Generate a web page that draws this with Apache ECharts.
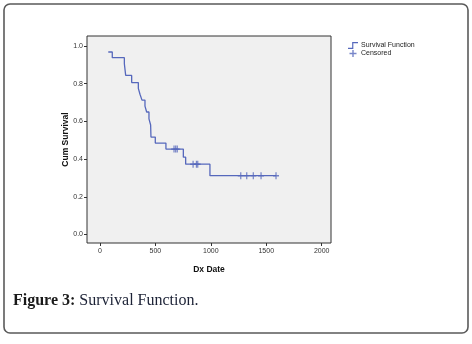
<!DOCTYPE html>
<html>
<head>
<meta charset="utf-8">
<script src="https://cdn.jsdelivr.net/npm/echarts@6/dist/echarts.min.js"></script>
<style>
  html, body {margin: 0; padding: 0; background: #fff;}
  #chart {width: 472px; height: 344px;}
</style>
</head>
<body>
<div id="chart"></div>
<script>
// Kaplan-Meier steps
const stepTimes = [75, 111, 220, 226, 232, 286, 346, 361, 379, 406, 421, 442, 457, 460, 499, 595, 752, 773, 992, 1590];
const stepSurvival = [0.968, 0.938, 0.906, 0.875, 0.844, 0.806, 0.775, 0.744, 0.713, 0.681, 0.65, 0.613, 0.581, 0.517, 0.485, 0.453, 0.41, 0.373, 0.312, 0.312];
const censoredTimes = [668, 683, 697, 840, 870, 882, 1270, 1324, 1383, 1453, 1588];
const censoredSurvival = [0.453, 0.453, 0.453, 0.373, 0.373, 0.373, 0.312, 0.312, 0.312, 0.312, 0.312];
const xTicks = [0, 500, 1000, 1500, 2000];
const yTicks = [0, 0.2, 0.4, 0.6, 0.8, 1.0];

const lineColor = "#5668bc";
const plusPath = "path://M4,0H6V4H10V6H6V10H4V6H0V4H4Z";
const stepPath = "path://M0,7H5V0H12V1.4H6.4V8.4H0Z";

const chart = echarts.init(document.getElementById("chart"));
const option = {
  backgroundColor: "#fff",
  animation: false,
  textStyle: {fontFamily: "Liberation Sans"},
  grid: {left: 87, top: 36, width: 244, height: 207, show: true, backgroundColor: "#f0f0f0", borderColor: "#333", borderWidth: 1},
  legend: {
    orient: "vertical", left: 343, top: 37, itemWidth: 12, itemHeight: 7, itemGap: 1,
    textStyle: {fontSize: 7, color: "#222", padding: [0, 0, 0, -3]},
    data: [
      {name: "Survival Function", icon: stepPath, itemStyle: {color: lineColor}},
      {name: "Censored", icon: plusPath, itemStyle: {color: lineColor}},
    ],
  },
  xAxis: {
    type: "value", min: -117, max: 2084,
    name: "Dx Date", nameLocation: "middle", nameGap: 22,
    nameTextStyle: {fontSize: 8.5, fontWeight: "bold", color: "#111"},
    axisLine: {show: false, onZero: false},
    axisTick: {show: true, length: 3, lineStyle: {color: "#333"}, customValues: xTicks},
    axisLabel: {fontSize: 7, color: "#333", margin: 5, customValues: xTicks, formatter: v => String(v)},
    splitLine: {show: false},
  },
  yAxis: {
    type: "value", min: -0.045, max: 1.053,
    name: "Cum Survival", nameLocation: "middle", nameGap: 17, nameMoveOverlap: false,
    nameTextStyle: {fontSize: 8.5, fontWeight: "bold", color: "#111"},
    axisLine: {show: false, onZero: false},
    axisTick: {show: true, length: 3, lineStyle: {color: "#333"}, customValues: yTicks},
    axisLabel: {fontSize: 7, color: "#333", margin: 4, customValues: yTicks, formatter: v => v.toFixed(1)},
    splitLine: {show: false},
  },
  series: [
    {
      name: "Survival Function", type: "line", step: "end", showSymbol: false,
      data: stepTimes.map((t, i) => [t, stepSurvival[i]]),
      lineStyle: {color: lineColor, width: 1.3},
      itemStyle: {color: lineColor},
    },
    {
      name: "Censored", type: "scatter", symbol: plusPath, symbolSize: [6, 7],
      data: censoredTimes.map((t, i) => [t, censoredSurvival[i]]),
      itemStyle: {color: lineColor},
    },
  ],
  graphic: [
    {type: "rect", shape: {x: 4, y: 4, width: 464, height: 329, r: 6}, style: {fill: null, stroke: "#5a5a5a", lineWidth: 1.6}, silent: true},
    {
      type: "text", left: 13, top: 293,
      style: {
        text: "{b|Figure 3:} Survival Function.",
        rich: {b: {fontFamily: "Liberation Serif", fontSize: 16, fontWeight: "bold", fill: "#1a1a1a"}},
        fontFamily: "Liberation Serif", fontSize: 16, fill: "#1c2236",
      },
    },
  ],
};
chart.setOption(option);
</script>
</body>
</html>
